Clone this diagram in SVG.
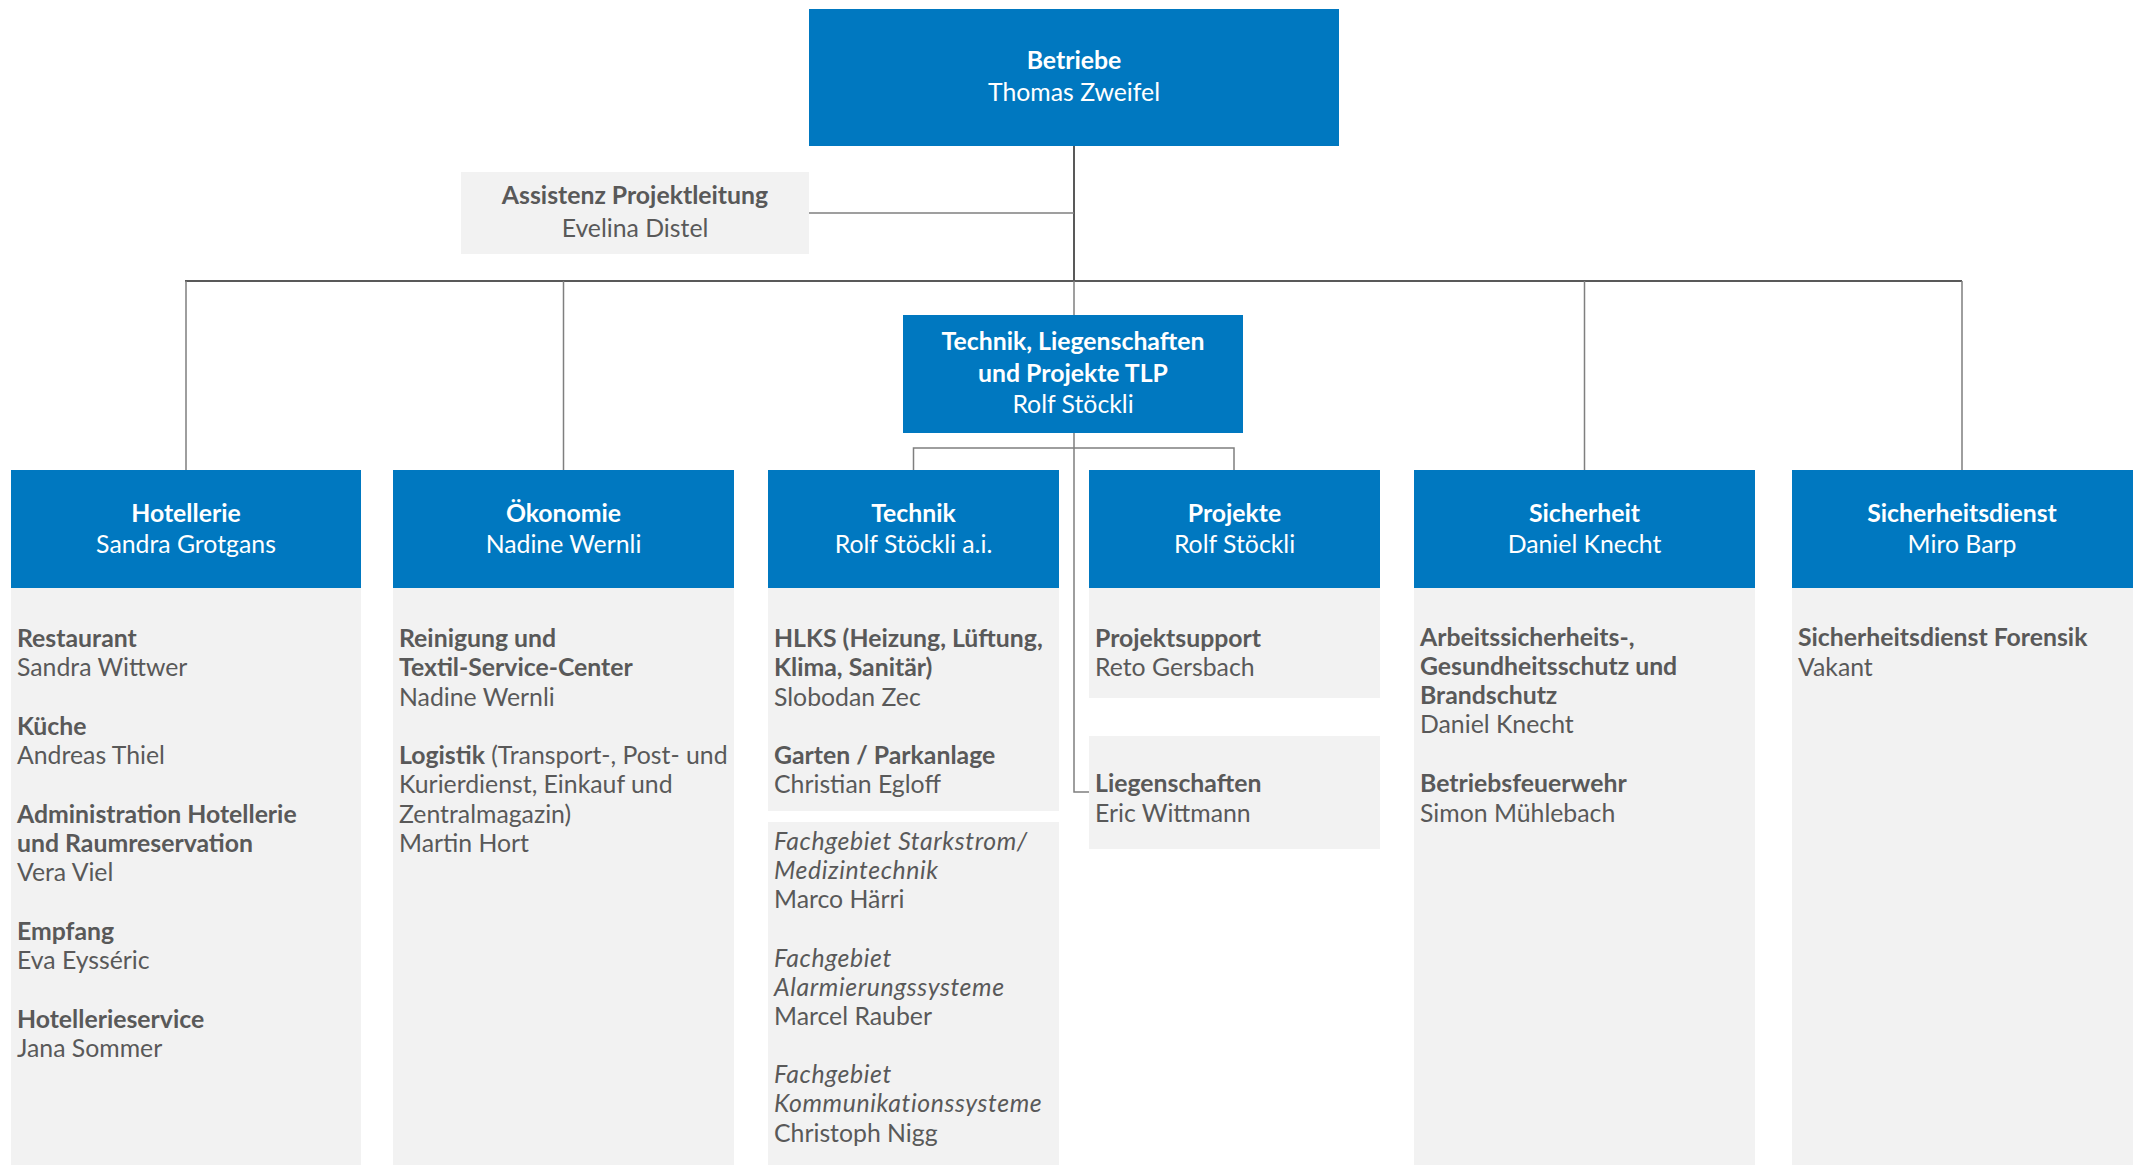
<svg xmlns="http://www.w3.org/2000/svg" width="2135" height="1167" viewBox="0 0 2135 1167">
<style>
.blue{fill:#0078C0}
.gray{fill:#F2F2F2}
text{font-family:Lato,"Open Sans","Liberation Sans",sans-serif;font-size:24.8px}
.h{fill:#FFFFFF;text-anchor:middle}
.t{fill:#595959}
.b{font-weight:bold}
.i{font-style:italic;letter-spacing:0.6px}
.c{fill:none;stroke:#7F7F7F;stroke-width:1.5}
.k{fill:none;stroke:#595959;stroke-width:2}
</style>
<rect width="2135" height="1167" fill="#FFFFFF"/>
<g id="connectors">
<path class="k" d="M1074 146 V281"/>
<path class="c" d="M809 213 H1074"/>
<path class="k" d="M185 281 H1962"/>
<path class="c" d="M186 281 V470 M563.5 281 V470 M1584.5 281 V470 M1962 281 V470"/>
<path class="c" d="M1074 281 V315"/>
<path class="c" d="M1074 433 V792 H1089"/>
<path class="c" d="M913.5 470 V448 H1234 V470"/>
</g>
<g id="betriebe">
<rect class="blue" x="809" y="9" width="530" height="137"/>
<text class="h b" x="1074" y="69">Betriebe</text>
<text class="h" x="1074" y="101">Thomas Zweifel</text>
</g>
<g id="assistenz">
<rect class="gray" x="461" y="172" width="348" height="82"/>
<text class="t b" x="635" y="204" text-anchor="middle">Assistenz Projektleitung</text>
<text class="t" x="635" y="237" text-anchor="middle">Evelina Distel</text>
</g>
<g id="tlp">
<rect class="blue" x="903" y="315" width="340" height="118"/>
<text class="h b" x="1073" y="350">Technik, Liegenschaften</text>
<text class="h b" x="1073" y="382">und Projekte TLP</text>
<text class="h" x="1073" y="413">Rolf Stöckli</text>
</g>
<g id="hotellerie">
<rect class="blue" x="11" y="470" width="350" height="118"/>
<text class="h b" x="186" y="522">Hotellerie</text>
<text class="h" x="186" y="553">Sandra Grotgans</text>
</g>
<g id="hotellerie-body">
<rect class="gray" x="11" y="588" width="350" height="577"/>
<text class="t" x="17">
<tspan class="b" x="17" y="647">Restaurant</tspan>
<tspan x="17" y="676">Sandra Wittwer</tspan>
<tspan class="b" x="17" y="735">Küche</tspan>
<tspan x="17" y="764">Andreas Thiel</tspan>
<tspan class="b" x="17" y="823">Administration Hotellerie</tspan>
<tspan class="b" x="17" y="852">und Raumreservation</tspan>
<tspan x="17" y="881">Vera Viel</tspan>
<tspan class="b" x="17" y="940">Empfang</tspan>
<tspan x="17" y="969">Eva Eysséric</tspan>
<tspan class="b" x="17" y="1028">Hotellerieservice</tspan>
<tspan x="17" y="1057">Jana Sommer</tspan>
</text>
</g>
<g id="oekonomie">
<rect class="blue" x="393" y="470" width="341" height="118"/>
<text class="h b" x="563.5" y="522">Ökonomie</text>
<text class="h" x="563.5" y="553">Nadine Wernli</text>
</g>
<g id="oekonomie-body">
<rect class="gray" x="393" y="588" width="341" height="577"/>
<text class="t">
<tspan class="b" x="399" y="647">Reinigung und</tspan>
<tspan class="b" x="399" y="676">Textil-Service-Center</tspan>
<tspan x="399" y="706">Nadine Wernli</tspan>
<tspan x="399" y="764"><tspan class="b">Logistik</tspan> (Transport-, Post- und</tspan>
<tspan x="399" y="793">Kurierdienst, Einkauf und</tspan>
<tspan x="399" y="823">Zentralmagazin)</tspan>
<tspan x="399" y="852">Martin Hort</tspan>
</text>
</g>
<g id="technik">
<rect class="blue" x="768" y="470" width="291" height="118"/>
<text class="h b" x="913.5" y="522">Technik</text>
<text class="h" x="913.5" y="553">Rolf Stöckli a.i.</text>
</g>
<g id="technik-body">
<rect class="gray" x="768" y="588" width="291" height="223"/>
<text class="t">
<tspan class="b" x="774" y="647">HLKS (Heizung, Lüftung,</tspan>
<tspan class="b" x="774" y="676">Klima, Sanitär)</tspan>
<tspan x="774" y="706">Slobodan Zec</tspan>
<tspan class="b" x="774" y="764">Garten / Parkanlage</tspan>
<tspan x="774" y="793">Christian Egloff</tspan>
</text>
</g>
<g id="fachgebiete">
<rect class="gray" x="768" y="822" width="291" height="343"/>
<text class="t">
<tspan class="i" x="774" y="850">Fachgebiet Starkstrom/</tspan>
<tspan class="i" x="774" y="879">Medizintechnik</tspan>
<tspan x="774" y="908">Marco Härri</tspan>
<tspan class="i" x="774" y="967">Fachgebiet</tspan>
<tspan class="i" x="774" y="996">Alarmierungssysteme</tspan>
<tspan x="774" y="1025">Marcel Rauber</tspan>
<tspan class="i" x="774" y="1083">Fachgebiet</tspan>
<tspan class="i" x="774" y="1112">Kommunikationssysteme</tspan>
<tspan x="774" y="1142">Christoph Nigg</tspan>
</text>
</g>
<g id="projekte">
<rect class="blue" x="1089" y="470" width="291" height="118"/>
<text class="h b" x="1234.5" y="522">Projekte</text>
<text class="h" x="1234.5" y="553">Rolf Stöckli</text>
</g>
<g id="projekte-body">
<rect class="gray" x="1089" y="588" width="291" height="110"/>
<text class="t">
<tspan class="b" x="1095" y="647">Projektsupport</tspan>
<tspan x="1095" y="676">Reto Gersbach</tspan>
</text>
</g>
<g id="liegenschaften">
<rect class="gray" x="1089" y="736" width="291" height="113"/>
<text class="t">
<tspan class="b" x="1095" y="792">Liegenschaften</tspan>
<tspan x="1095" y="822">Eric Wittmann</tspan>
</text>
</g>
<g id="sicherheit">
<rect class="blue" x="1414" y="470" width="341" height="118"/>
<text class="h b" x="1584.5" y="522">Sicherheit</text>
<text class="h" x="1584.5" y="553">Daniel Knecht</text>
</g>
<g id="sicherheit-body">
<rect class="gray" x="1414" y="588" width="341" height="577"/>
<text class="t">
<tspan class="b" x="1420" y="646">Arbeitssicherheits-,</tspan>
<tspan class="b" x="1420" y="675">Gesundheitsschutz und</tspan>
<tspan class="b" x="1420" y="704">Brandschutz</tspan>
<tspan x="1420" y="733">Daniel Knecht</tspan>
<tspan class="b" x="1420" y="792">Betriebsfeuerwehr</tspan>
<tspan x="1420" y="822">Simon Mühlebach</tspan>
</text>
</g>
<g id="sicherheitsdienst">
<rect class="blue" x="1792" y="470" width="341" height="118"/>
<text class="h b" x="1962" y="522">Sicherheitsdienst</text>
<text class="h" x="1962" y="553">Miro Barp</text>
</g>
<g id="sicherheitsdienst-body">
<rect class="gray" x="1792" y="588" width="341" height="577"/>
<text class="t">
<tspan class="b" x="1798" y="646">Sicherheitsdienst Forensik</tspan>
<tspan x="1798" y="676">Vakant</tspan>
</text>
</g>
</svg>
